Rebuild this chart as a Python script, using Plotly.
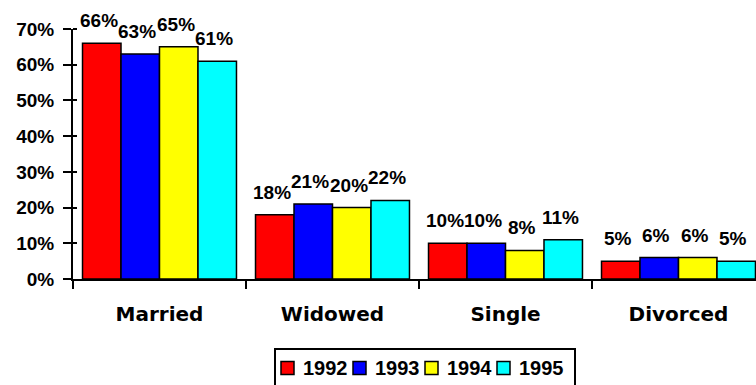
import plotly.graph_objects as go

categories = ["Married", "Widowed", "Single", "Divorced"]
years = ["1992", "1993", "1994", "1995"]
values_1992 = [66, 18, 10, 5]
values_1993 = [63, 21, 10, 6]
values_1994 = [65, 20, 8, 6]
values_1995 = [61, 22, 11, 5]
colors = ["#ff0000", "#0000ff", "#ffff00", "#00ffff"]
y_ticks = [0, 10, 20, 30, 40, 50, 60, 70]

series = [values_1992, values_1993, values_1994, values_1995]
num_font = "Liberation Sans, Arial, sans-serif"
cat_font = "DejaVu Sans, Verdana, sans-serif"
bargap = 0.11

W, H = 756, 385
M_L, M_R, M_T, M_B = 73, 0, 29, 106
plot_w = W - M_L - M_R
plot_h = H - M_T - M_B


def px_x(px):
    """pixel column -> paper x"""
    return (px - M_L) / plot_w


def px_y(py):
    """pixel row -> paper y"""
    return (H - M_B - py) / plot_h


fig = go.Figure()
for year, vals, col in zip(years, series, colors):
    fig.add_trace(go.Bar(
        x=categories,
        y=[v / 100 for v in vals],
        name=year,
        marker=dict(color=col, line=dict(color="#000000", width=1.5)),
        showlegend=False,
    ))

# value labels above each bar, placed at the grouped-bar centres
n = len(series)
bar_w = (1 - bargap) / n
for i, vals in enumerate(series):
    for j, v in enumerate(vals):
        fig.add_annotation(
            x=j - (1 - bargap) / 2 + (i + 0.5) * bar_w,
            y=v / 100,
            xref="x",
            yref="y",
            text=f"<b>{v}%</b>",
            showarrow=False,
            yanchor="bottom",
            xanchor="center",
            yshift=10,
            xshift=-3,
            font=dict(family=num_font, size=19, color="#000000"),
        )

# compact boxed legend under the chart
leg_left, leg_right, leg_top, leg_bottom = 275, 575, 349, 395
sw_size, sw_x0, pitch, text_gap, row_y = 13, 281, 72, 20, 368
fig.add_shape(
    type="rect", xref="paper", yref="paper",
    x0=px_x(leg_left), x1=px_x(leg_right), y0=px_y(leg_bottom), y1=px_y(leg_top),
    line=dict(color="#000000", width=2), fillcolor="#ffffff", layer="above",
)
for k, (year, col) in enumerate(zip(years, colors)):
    sx = sw_x0 + k * pitch
    fig.add_shape(
        type="rect", xref="paper", yref="paper",
        x0=px_x(sx), x1=px_x(sx + sw_size),
        y0=px_y(row_y + sw_size / 2), y1=px_y(row_y - sw_size / 2),
        line=dict(color="#000000", width=1.5), fillcolor=col, layer="above",
    )
    fig.add_annotation(
        x=px_x(sx + text_gap), y=px_y(row_y), xref="paper", yref="paper",
        text=f"<b>{year}</b>", showarrow=False, xanchor="left", yanchor="middle",
        font=dict(family=num_font, size=20, color="#000000"),
    )

fig.update_layout(
    width=W,
    height=H,
    margin=dict(l=M_L, r=M_R, t=M_T, b=M_B, autoexpand=False),
    paper_bgcolor="#ffffff",
    plot_bgcolor="#ffffff",
    barmode="group",
    bargap=bargap,
    bargroupgap=0,
    font=dict(family=num_font, size=19, color="#000000"),
    xaxis=dict(
        range=[-0.5, 3.448],
        showline=True,
        linecolor="#000000",
        linewidth=2,
        ticks="outside",
        tickson="boundaries",
        ticklen=8,
        tickwidth=2,
        tickcolor="#000000",
        tickfont=dict(family=cat_font, size=20, color="#000000"),
        tickprefix="<b>",
        ticksuffix="</b>",
        showgrid=False,
        zeroline=False,
        ticklabelstandoff=16,
    ),
    yaxis=dict(
        range=[0, 0.7],
        tickvals=[t / 100 for t in y_ticks],
        ticktext=[f"<b>{t}%</b>" for t in y_ticks],
        showline=True,
        linecolor="#000000",
        linewidth=2,
        ticks="outside",
        ticklen=8,
        tickwidth=2,
        tickcolor="#000000",
        tickfont=dict(family=num_font, size=19, color="#000000"),
        showgrid=False,
        zeroline=False,
        ticklabelstandoff=5,
        # short inward stubs so each tick crosses the axis line
        minor=dict(
            tickmode="array",
            tickvals=[t / 100 + 1e-5 for t in y_ticks[1:]],
            ticks="inside",
            ticklen=4,
            tickwidth=2,
            tickcolor="#000000",
            showgrid=False,
        ),
    ),
    showlegend=False,
)

fig.write_html("out.html")
